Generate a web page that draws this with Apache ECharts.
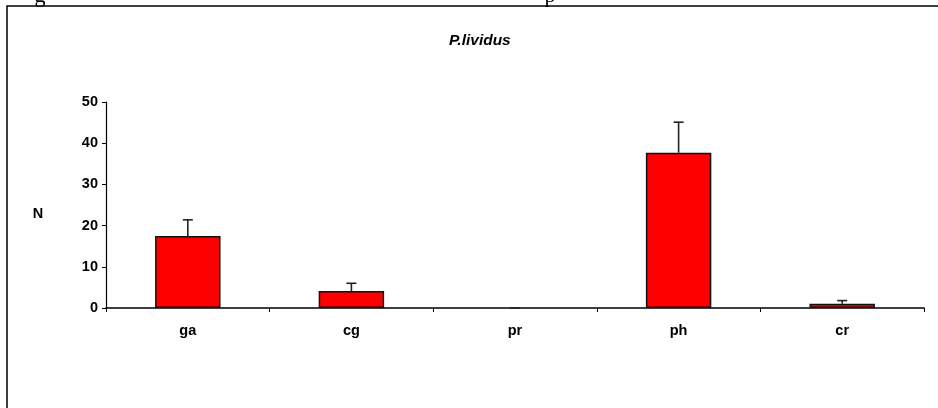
<!DOCTYPE html>
<html>
<head>
<meta charset="utf-8">
<script src="https://cdn.jsdelivr.net/npm/echarts@6/dist/echarts.min.js"></script>
<style>html,body{margin:0;padding:0;background:#fff}#c{width:938px;height:408px}</style>
</head>
<body>
<div id="c"></div>
<script>
var categories = ['ga', 'cg', 'pr', 'ph', 'cr'];
var means = [17.5, 4.1, 0, 37.7, 1.05];
var errors = [3.9, 1.9, 0, 7.4, 0.75];
var yTicks = [0, 10, 20, 30, 40, 50];
var titleText = 'P.lividus';
var yName = 'N';

var chart = echarts.init(document.getElementById('c'), null, {renderer: 'canvas'});
var font = 'Liberation Sans, Arial, sans-serif';

var errData = categories.map(function (c, i) { return [i, means[i], means[i] + errors[i]]; });
var barData = means.map(function (v) {
  return v === 0 ? {value: v, itemStyle: {borderWidth: 0}} : v;
});

chart.setOption({
  animation: false,
  backgroundColor: '#fff',
  title: {
    text: titleText, left: 444, top: 28,
    textStyle: {fontFamily: font, fontSize: 15.5, fontWeight: 'bold', fontStyle: 'italic', color: '#000'}
  },
  grid: {left: 106, right: 14, top: 102, bottom: 100},
  xAxis: {
    type: 'category', data: categories,
    axisLine: {lineStyle: {color: '#000', width: 1.5}},
    axisTick: {show: true, alignWithLabel: false, length: 4, inside: false, lineStyle: {color: '#000'}},
    axisLabel: {fontFamily: font, fontSize: 14.5, fontWeight: 'bold', color: '#000', margin: 15}
  },
  yAxis: {
    type: 'value', min: yTicks[0], max: yTicks[yTicks.length - 1], interval: 10,
    axisLine: {show: true, lineStyle: {color: '#000', width: 1.2}},
    axisTick: {show: true, length: 4, lineStyle: {color: '#000'}},
    splitLine: {show: false},
    axisLabel: {fontFamily: font, fontSize: 14.5, fontWeight: 'bold', color: '#000', margin: 8}
  },
  graphic: [
    {type: 'polyline', shape: {points: [[7, 408], [7, 6], [938, 6]]}, style: {stroke: '#000', lineWidth: 1.5, fill: null}},
    {type: 'text', x: 38, y: 214, style: {text: yName, font: 'bold 14.5px ' + font, fill: '#000', align: 'center', verticalAlign: 'middle'}},
    {type: 'text', x: 40, y: -15, style: {text: 'g', font: '22px Liberation Serif, serif', fill: '#000', align: 'center', verticalAlign: 'top'}},
    {type: 'text', x: 550, y: -15, style: {text: 'p', font: '22px Liberation Serif, serif', fill: '#000', align: 'center', verticalAlign: 'top'}}
  ],
  series: [
    {
      type: 'bar', data: barData, barWidth: '40%',
      itemStyle: {color: '#ff0000', borderColor: '#111', borderWidth: 1.5}
    },
    {
      type: 'custom', data: errData, z: 3,
      renderItem: function (params, api) {
        var x = api.value(0);
        var lo = api.coord([x, api.value(1)]);
        var hi = api.coord([x, api.value(2)]);
        var w = 5;
        return {
          type: 'group',
          children: [
            {type: 'line', shape: {x1: lo[0], y1: lo[1], x2: hi[0], y2: hi[1]}, style: {stroke: '#222', lineWidth: 1.6}},
            {type: 'line', shape: {x1: hi[0] - w, y1: hi[1], x2: hi[0] + w, y2: hi[1]}, style: {stroke: '#222', lineWidth: 1.6}}
          ]
        };
      }
    }
  ]
});
</script>
</body>
</html>
